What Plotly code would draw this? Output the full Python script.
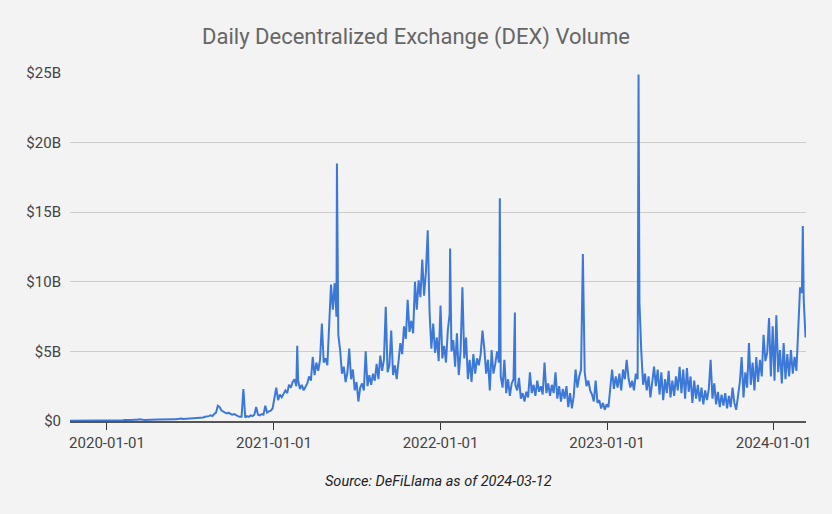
import plotly.graph_objects as go
import pandas as pd

# --- Data (USD billions) ---
start_date = "2019-10-12"
step_days = 4

volume_b = [
    # 2019-10 .. 2020-05 (near zero)
    0.02, 0.02, 0.03, 0.02, 0.03, 0.02, 0.03, 0.03, 0.02, 0.03,
    0.03, 0.04, 0.03, 0.04, 0.03, 0.04, 0.05, 0.04, 0.05, 0.04,
    0.05, 0.06, 0.05, 0.06, 0.05, 0.06, 0.07, 0.06, 0.07, 0.06,
    0.08, 0.07, 0.08, 0.07, 0.08, 0.09, 0.08, 0.09, 0.12, 0.08,
    0.09, 0.08, 0.09, 0.1, 0.09, 0.1, 0.09, 0.1, 0.11, 0.1,
    0.11, 0.1, 0.12, 0.11, 0.12, 0.11,
    # 2020-05 .. 2020-12
    0.12, 0.13, 0.12, 0.14, 0.13, 0.18, 0.14, 0.15, 0.14, 0.16,
    0.15, 0.17, 0.16, 0.18, 0.17, 0.19, 0.2, 0.25, 0.3, 0.3,
    0.35, 0.4, 0.35, 0.5, 0.6, 1.1, 1.0, 0.75, 0.65, 0.6,
    0.55, 0.6, 0.5, 0.45, 0.5, 0.4, 0.35, 0.3, 0.3, 0.3,
    0.25, 0.35, 0.3, 0.4, 0.35, 0.45, 1.0, 0.45, 0.4, 0.5,
    0.45, 1.1, 0.6, 0.7, 0.75,
    # 2021-01 .. 2021-06
    0.9, 1.6, 2.4, 1.5, 1.9, 1.7, 2.0, 2.2, 2.0, 2.6,
    2.4, 2.8, 3.0, 2.5, 2.9, 2.3, 2.6, 2.2, 2.5, 2.7,
    3.2, 2.9, 4.6, 3.3, 4.2, 3.6, 4.4, 7.0, 4.2, 4.5,
    4.0, 6.5, 9.8, 8.0, 9.9, 7.5, 6.2, 5.1, 3.4, 3.9,
    2.8, 3.5, 5.2, 3.0, 3.7,
    # 2021-07 .. 2021-12
    2.2, 2.8, 1.4, 2.4, 2.7, 2.2, 5.0, 2.5, 3.3, 2.6,
    3.4, 2.9, 4.1, 3.0, 4.7, 3.6, 4.4, 8.2, 3.5, 4.0,
    6.5, 3.3, 4.0, 3.0, 4.2, 5.6, 4.8, 6.8, 5.9, 8.7,
    6.4, 7.2, 6.3, 10.0, 8.0, 10.1, 8.9, 11.6, 9.0, 10.7,
    10.8, 7.8, 5.2, 7.0, 4.9, 6.0,
    # 2022-01 .. 2022-06
    4.3, 8.3, 4.5, 5.4, 4.2, 6.5, 7.7, 5.0, 5.8, 3.9,
    6.3, 3.3, 5.0, 9.6, 4.5, 6.0, 3.0, 4.4, 2.8, 4.8,
    3.4, 4.5, 4.0, 4.8, 6.5, 5.2, 3.4, 4.4, 2.2, 5.1,
    3.4, 4.1, 5.0, 4.2, 3.2, 2.4, 4.4, 2.0, 3.0, 1.8,
    2.7, 3.0, 2.6, 2.2, 3.1, 1.6,
    # 2022-07 .. 2022-12
    2.0, 1.4, 2.1, 1.7, 3.5, 2.0, 2.6, 1.8, 2.9, 2.1,
    2.5, 1.9, 4.2, 2.0, 2.7, 1.8, 2.6, 2.0, 3.5, 1.6,
    2.5, 1.4, 2.3, 1.6, 2.5, 1.0, 2.0, 0.9, 1.8, 3.7,
    2.4, 3.2, 3.7, 5.5, 3.5, 2.5, 2.9, 2.2, 1.9, 1.4,
    2.9, 1.3, 1.5, 0.9, 1.3, 0.8,
    # 2023-01 .. 2023-06
    1.2, 1.0, 2.5, 3.7, 2.3, 3.2, 2.4, 3.4, 2.2, 3.7,
    3.0, 4.4, 3.1, 2.4, 2.9, 2.2, 3.4, 3.0, 8.5, 5.0,
    2.6, 3.4, 2.2, 3.2, 1.7, 2.8, 3.9, 2.5, 3.7, 1.9,
    3.5, 1.5, 3.0, 2.0, 3.6, 1.7, 2.9, 1.8, 3.2, 2.2,
    3.9, 2.0, 3.7, 1.6, 3.8,
    # 2023-07 .. 2023-12
    2.1, 3.2, 1.3, 2.9, 1.6, 2.6, 1.4, 2.4, 1.2, 2.2,
    1.5, 2.3, 4.4, 1.6, 2.7, 1.2, 2.1, 1.0, 1.9, 1.1,
    2.0, 0.9, 1.8, 1.0, 2.4, 1.3, 0.8, 2.0, 2.8, 4.6,
    1.7, 3.5, 2.4, 5.6, 2.6, 4.2, 2.2, 4.6, 2.8, 4.4,
    3.2, 6.2, 4.3, 4.9, 7.4, 3.2,
    # 2024-01 .. 2024-03
    6.8, 2.9, 7.6, 3.5, 5.1, 2.7, 5.6, 3.0, 4.8, 3.2,
    5.1, 3.4, 4.6, 3.6, 6.1, 9.6, 9.2, 8.7, 6.0,
]

# single-day spikes
spike_dates = [
    "2020-10-26", "2021-02-21", "2021-05-19", "2021-12-04", "2022-01-22",
    "2022-05-11", "2022-06-13", "2022-11-09", "2023-03-11", "2024-03-05",
]
spike_values_b = [2.3, 5.4, 18.5, 13.7, 12.4, 16.0, 7.8, 12.0, 24.9, 14.0]

y_tickvals = [0, 5, 10, 15, 20, 25]
y_ticktext = ["$0", "$5B", "$10B", "$15B", "$20B", "$25B"]
x_ticks = ["2020-01-01", "2021-01-01", "2022-01-01", "2023-01-01", "2024-01-01"]

# --- Build series ---
dates = pd.date_range(start_date, periods=len(volume_b), freq=f"{step_days}D")
series = pd.Series(volume_b, index=dates)
for d, v in zip(spike_dates, spike_values_b):
    series[pd.Timestamp(d)] = v
series = series.sort_index()

fig = go.Figure()
fig.add_trace(
    go.Scatter(
        x=series.index,
        y=series.values,
        mode="lines",
        line=dict(color="#3c78d8", width=2),
        hovertemplate="%{x|%Y-%m-%d}: $%{y:.1f}B<extra></extra>",
    )
)

bg = "#f3f3f3"
fig.update_layout(
    width=832,
    height=514,
    paper_bgcolor=bg,
    plot_bgcolor=bg,
    showlegend=False,
    font=dict(family="Roboto", size=15, color="#444444"),
    margin=dict(l=70, r=26, t=73, b=93),
    title=dict(
        text="Daily Decentralized Exchange (DEX) Volume",
        x=0.5,
        xanchor="center",
        y=0.93,
        yanchor="middle",
        font=dict(family="Roboto", size=22, color="#666666"),
    ),
    xaxis=dict(
        type="date",
        range=["2019-10-12", "2024-03-12"],
        tickvals=x_ticks,
        ticktext=x_ticks,
        showgrid=False,
        showline=True,
        linecolor="#555555",
        linewidth=1.5,
        ticks="outside",
        ticklen=7,
        tickcolor="#333333",
        tickwidth=1.2,
        zeroline=False,
        tickfont=dict(size=15, color="#444444"),
    ),
    yaxis=dict(
        range=[0, 25],
        tickvals=y_tickvals,
        ticktext=y_ticktext,
        showgrid=True,
        gridcolor="#cccccc",
        gridwidth=1,
        zeroline=False,
        showline=False,
        ticks="",
        ticklabelstandoff=8,
        tickfont=dict(size=15, color="#444444"),
    ),
    annotations=[
        dict(
            text="<i>Source: DeFiLlama as of 2024-03-12</i>",
            xref="paper",
            yref="paper",
            x=0.501,
            y=-0.175,
            xanchor="center",
            yanchor="middle",
            showarrow=False,
            font=dict(family="Roboto", size=14.5, color="#222222"),
        )
    ],
)

fig.write_html(
    "out.html",
    config={"displayModeBar": False},
    post_script="document.body.style.margin='0px';document.body.style.overflow='hidden';",
)
